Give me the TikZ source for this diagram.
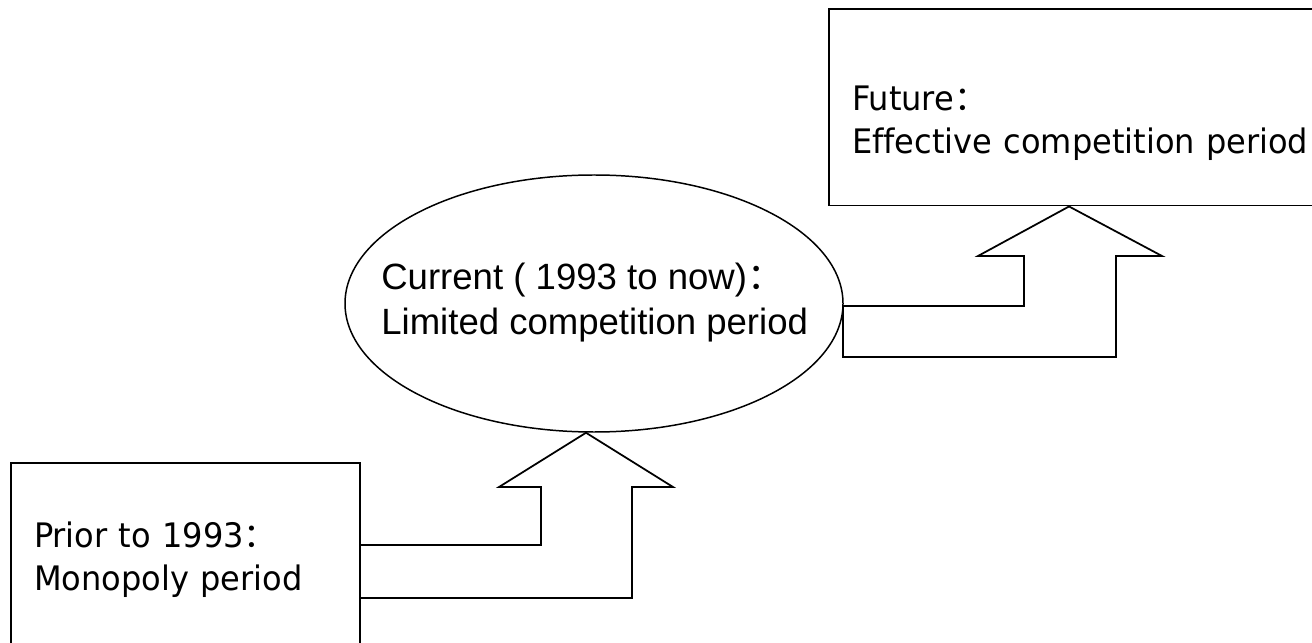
\documentclass[tikz,border=0pt]{standalone}
\usepackage{fontspec}
\setmainfont{Liberation Sans}
\newfontfamily\boxfont[FakeStretch=0.95, Ligatures=NoCommon]{DejaVu Sans}
\newfontfamily\cjk{Noto Sans CJK SC}
\usetikzlibrary{shapes.geometric, positioning}

\tikzset{
  periodbox/.style={draw, rectangle, line width=1.1pt, align=left, inner xsep=0.46cm,
    font=\boxfont\fontsize{19.2pt}{24.4pt}\selectfont},
  bentarrow/.style={draw, line width=1pt, line join=miter, fill=white},
}

\begin{document}
\begin{tikzpicture}
	\clip (0,0) rectangle (26.24,12.84);
	\fill[white] (0,0) rectangle (26.24,12.84);
	% the three periods
	\node[periodbox, minimum width=6.98cm, minimum height=3.88cm, text width=6.06cm] (prior) at (3.71,1.64) {Prior to 1993{\cjk ：}\\Monopoly period};
	\node[draw, ellipse, line width=0.85pt, inner sep=0pt, minimum width=9.96cm, minimum height=5.14cm] (current) at (11.88,6.77) {};
	\node[anchor=west, align=left, inner sep=0pt, font=\fontsize{20.8pt}{25.6pt}\selectfont] (currenttext) at (7.62,6.78) {Current ( 1993 to now){\cjk ：}\\Limited competition period};
	\node[periodbox, minimum width=10.42cm, minimum height=3.93cm, text width=9.5cm, text depth=0.35cm] (future) at (21.79,10.695) {Future{\cjk ：}\\Effective competition period};
	% bent arrows
	\draw[bentarrow] (7.2,0.88) -- (7.2,1.94) -- (10.82,1.94) -- (10.82,3.10) -- (9.98,3.10) -- ([xshift=-0.16cm]current.south) -- (13.46,3.10) -- (12.64,3.10) -- (12.64,0.88) -- cycle;
	\draw[bentarrow] (16.86,5.70) -- (16.86,6.72) -- (20.48,6.72) -- (20.48,7.72) -- (19.56,7.72) -- ([xshift=4.82cm]future.south west) -- (23.24,7.72) -- (22.32,7.72) -- (22.32,5.70) -- cycle;
\end{tikzpicture}
\end{document}
